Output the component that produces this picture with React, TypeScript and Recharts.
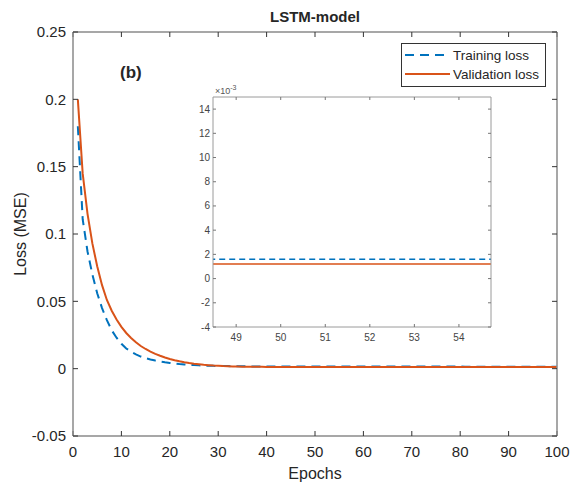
import React from 'react';
import { LineChart, Line, XAxis, YAxis, Legend } from 'recharts';

const epochs: number[] = Array.from({ length: 100 }, (_, i) => i + 1);

const trainingLoss: number[] = [
  0.180, 0.111, 0.087, 0.070, 0.056, 0.045, 0.036, 0.0285, 0.0230, 0.0185,
  0.0150, 0.0126, 0.0106, 0.0090, 0.0078, 0.0068, 0.0060, 0.0053, 0.0047, 0.0042,
  0.0038, 0.0034, 0.0031, 0.0029, 0.0027, 0.0025, 0.0023, 0.0022, 0.0021, 0.0020,
  0.0019, 0.0019, 0.0018, 0.0018, 0.0018, 0.0017, 0.0017, 0.0017, 0.0017, 0.0017,
  0.0016, 0.0016, 0.0016, 0.0016, 0.0016, 0.0016, 0.0016, 0.0016, 0.0016, 0.0016,
  0.0016, 0.0016, 0.0016, 0.0016, 0.0016, 0.0016, 0.0016, 0.0016, 0.0016, 0.0016,
  0.0016, 0.0016, 0.0016, 0.0016, 0.0016, 0.0016, 0.0016, 0.0016, 0.0016, 0.0016,
  0.0016, 0.0016, 0.0016, 0.0016, 0.0016, 0.0016, 0.0016, 0.0016, 0.0016, 0.0016,
  0.0015, 0.0015, 0.0015, 0.0015, 0.0015, 0.0015, 0.0015, 0.0015, 0.0015, 0.0015,
  0.0015, 0.0015, 0.0015, 0.0015, 0.0015, 0.0015, 0.0015, 0.0015, 0.0015, 0.0015,
];

const validationLoss: number[] = [
  0.200, 0.145, 0.115, 0.093, 0.076, 0.062, 0.051, 0.0430, 0.0365, 0.0310,
  0.0265, 0.0228, 0.0196, 0.0168, 0.0146, 0.0127, 0.0110, 0.0096, 0.0083, 0.0072,
  0.0063, 0.0055, 0.0048, 0.0042, 0.0037, 0.0033, 0.0029, 0.0026, 0.0023, 0.0021,
  0.0019, 0.0018, 0.0017, 0.0016, 0.0015, 0.0015, 0.0014, 0.0014, 0.0014, 0.0013,
  0.0013, 0.0013, 0.0013, 0.0013, 0.0013, 0.0013, 0.0013, 0.0012, 0.0012, 0.0012,
  0.0012, 0.0012, 0.0012, 0.0012, 0.0012, 0.0012, 0.0012, 0.0012, 0.0012, 0.0012,
  0.0012, 0.0012, 0.0012, 0.0012, 0.0012, 0.0012, 0.0012, 0.0012, 0.0012, 0.0012,
  0.0012, 0.0012, 0.0012, 0.0012, 0.0012, 0.0012, 0.0012, 0.0012, 0.0012, 0.0012,
  0.0012, 0.0012, 0.0012, 0.0012, 0.0012, 0.0012, 0.0012, 0.0012, 0.0012, 0.0012,
  0.0012, 0.0012, 0.0012, 0.0012, 0.0012, 0.0012, 0.0012, 0.0012, 0.0012, 0.0012,
];

const seriesNames = ['Training loss', 'Validation loss'];
const seriesColors = ['#0072BD', '#D95319'];
const seriesDash = ['9 6', undefined];

const mainXTicks = [0, 10, 20, 30, 40, 50, 60, 70, 80, 90, 100];
const mainYTicks = [-0.05, 0, 0.05, 0.1, 0.15, 0.2, 0.25];
const insetXTicks = [49, 50, 51, 52, 53, 54];
const insetYTicks = [-0.004, -0.002, 0, 0.002, 0.004, 0.006, 0.008, 0.01, 0.012, 0.014];

const titleText = 'LSTM-model';
const panelText = '(b)';
const xLabelText = 'Epochs';
const yLabelText = 'Loss (MSE)';

const data = epochs.map((e, i) => ({
  epoch: e,
  training: trainingLoss[i],
  validation: validationLoss[i],
}));

const FONT = '"Liberation Sans", Arial, Helvetica, sans-serif';
const AXIS = '#8a8a8a';
const TICK = '#333333';
const TEXT = '#262626';
const IAXIS = '#9a9a9a';
const ITICK = '#777777';

const noTick = () => <g />;

const LegendBox = () => (
  <svg width={145} height={44} style={{ display: 'block' }}>
    <rect x={0.5} y={0.5} width={144} height={43} fill="#ffffff" stroke="#333333" strokeWidth={1} />
    {seriesNames.map((name, i) => (
      <g key={name}>
        <line
          x1={4}
          x2={49}
          y1={12 + i * 19}
          y2={12 + i * 19}
          stroke={seriesColors[i]}
          strokeWidth={2}
          strokeDasharray={seriesDash[i]}
        />
        <text x={52} y={17 + i * 19} fontSize={13.5} fontFamily={FONT} fill={TEXT}>
          {name}
        </text>
      </g>
    ))}
  </svg>
);

const fmtMain = (v: number) => String(Math.round(v * 100) / 100);
const fmtInset = (v: number) => String(Math.round(v * 1000));

export default function App() {
  return (
    <div style={{ position: 'absolute', left: 0, top: 0, width: 575, height: 484, background: '#ffffff' }}>
      <LineChart
        width={575}
        height={484}
        data={data}
        margin={{ top: 31, right: 17, bottom: 8, left: 13 }}
      >
        <XAxis
          dataKey="epoch"
          type="number"
          domain={[0, 100]}
          ticks={mainXTicks}
          interval={0}
          height={40}
          tickSize={-5}
          tickMargin={15}
          axisLine={{ stroke: AXIS, strokeWidth: 1.5 }}
          tickLine={{ stroke: TICK }}
          tick={{ fill: TEXT, fontSize: 15, fontFamily: FONT }}
          allowDataOverflow
        />
        <XAxis
          xAxisId="top"
          dataKey="epoch"
          orientation="top"
          type="number"
          domain={[0, 100]}
          ticks={mainXTicks}
          interval={0}
          height={1}
          tickSize={-5}
          axisLine={{ stroke: AXIS, strokeWidth: 1.5 }}
          tickLine={{ stroke: TICK }}
          tick={noTick}
          allowDataOverflow
        />
        <YAxis
          type="number"
          domain={[-0.05, 0.25]}
          ticks={mainYTicks}
          interval={0}
          width={60}
          tickSize={-5}
          tickMargin={12}
          tickFormatter={fmtMain}
          axisLine={{ stroke: AXIS, strokeWidth: 1.5 }}
          tickLine={{ stroke: TICK }}
          tick={{ fill: TEXT, fontSize: 15, fontFamily: FONT }}
          allowDataOverflow
        />
        <YAxis
          yAxisId="right"
          orientation="right"
          type="number"
          domain={[-0.05, 0.25]}
          ticks={mainYTicks}
          interval={0}
          width={1}
          tickSize={-5}
          axisLine={{ stroke: AXIS, strokeWidth: 1.5 }}
          tickLine={{ stroke: TICK }}
          tick={noTick}
          allowDataOverflow
        />
        <Line
          dataKey="training"
          name={seriesNames[0]}
          type="linear"
          stroke={seriesColors[0]}
          strokeWidth={2}
          strokeDasharray={seriesDash[0]}
          dot={false}
          isAnimationActive={false}
        />
        <Line
          xAxisId="top"
          yAxisId="right"
          dataKey="validation"
          name={seriesNames[1]}
          type="linear"
          stroke={seriesColors[1]}
          strokeWidth={2}
          dot={false}
          isAnimationActive={false}
        />
        <Legend
          layout="vertical"
          align="center"
          verticalAlign="middle"
          wrapperStyle={{ position: 'absolute', left: 401, top: 43, width: 145, height: 44 }}
          content={() => <LegendBox />}
        />
        <text x={315} y={22} textAnchor="middle" fontSize={15} fontWeight="bold" fontFamily={FONT} fill={TEXT}>
          {titleText}
        </text>
        <text x={120} y={78} fontSize={17} fontWeight="bold" fontFamily={FONT} fill={TEXT}>
          {panelText}
        </text>
        <text x={315} y={479} textAnchor="middle" fontSize={16} fontFamily={FONT} fill={TEXT}>
          {xLabelText}
        </text>
        <text
          x={26}
          y={234}
          textAnchor="middle"
          fontSize={16}
          fontFamily={FONT}
          fill={TEXT}
          transform="rotate(-90 26 234)"
        >
          {yLabelText}
        </text>
      </LineChart>

      <div style={{ position: 'absolute', left: 180, top: 78, width: 320, height: 267 }}>
        <LineChart
          width={320}
          height={267}
          data={data}
          margin={{ top: 18, right: 8, bottom: 0, left: 8 }}
        >
          <rect x={33} y={19} width={278} height={230} fill="#ffffff" />
          <XAxis
            dataKey="epoch"
            type="number"
            domain={[48.48, 54.72]}
            ticks={insetXTicks}
            interval={0}
            height={18}
            tickSize={-3}
            tickMargin={10}
            axisLine={{ stroke: IAXIS }}
            tickLine={{ stroke: ITICK }}
            tick={{ fill: '#444444', fontSize: 10, fontFamily: FONT }}
            allowDataOverflow
          />
          <XAxis
            xAxisId="top"
            dataKey="epoch"
            orientation="top"
            type="number"
            domain={[48.48, 54.72]}
            ticks={insetXTicks}
            interval={0}
            height={1}
            tickSize={-3}
            axisLine={{ stroke: IAXIS }}
            tickLine={{ stroke: ITICK }}
            tick={noTick}
            allowDataOverflow
          />
          <YAxis
            type="number"
            domain={[-0.004, 0.015]}
            ticks={insetYTicks}
            interval={0}
            width={25}
            tickSize={-3}
            tickMargin={6}
            tickFormatter={fmtInset}
            axisLine={{ stroke: IAXIS }}
            tickLine={{ stroke: ITICK }}
            tick={{ fill: '#444444', fontSize: 10, fontFamily: FONT }}
            allowDataOverflow
          />
          <YAxis
            yAxisId="right"
            orientation="right"
            type="number"
            domain={[-0.004, 0.015]}
            ticks={insetYTicks}
            interval={0}
            width={1}
            tickSize={-3}
            axisLine={{ stroke: IAXIS }}
            tickLine={{ stroke: ITICK }}
            tick={noTick}
            allowDataOverflow
          />
          <Line
            dataKey="training"
            type="linear"
            stroke={seriesColors[0]}
            strokeWidth={1.5}
            strokeDasharray="6 4"
            dot={false}
            isAnimationActive={false}
          />
          <Line
            xAxisId="top"
            yAxisId="right"
            dataKey="validation"
            type="linear"
            stroke={seriesColors[1]}
            strokeWidth={1.5}
            dot={false}
            isAnimationActive={false}
          />
          <text x={35} y={16} fontSize={9} fontFamily={FONT} fill="#555555">
            ×10<tspan dy={-4} fontSize={7}>-3</tspan>
          </text>
        </LineChart>
      </div>
    </div>
  );
}
